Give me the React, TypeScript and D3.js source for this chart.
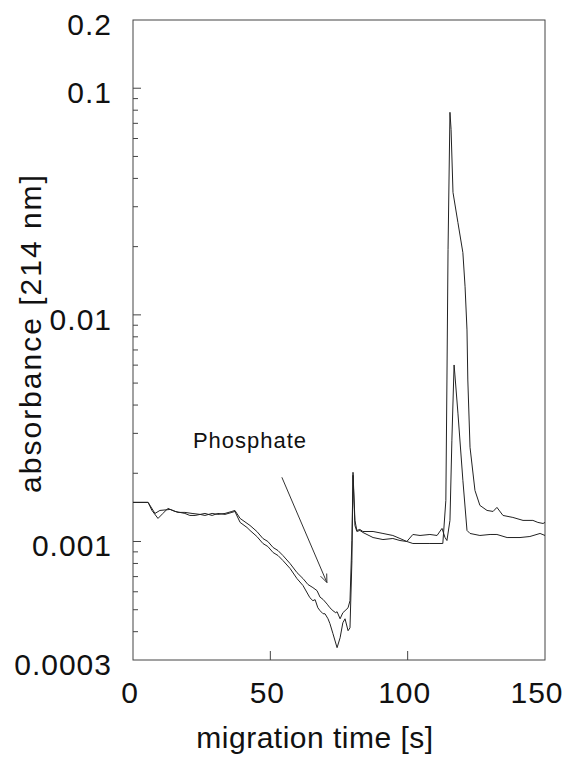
import React from "react";
import * as d3 from "d3";

// migration time [s] and absorbance for trace A (large peak ~116 s)
const timeA = [0, 5.5, 6.9, 9.1, 10.9, 12.7, 15.3, 18.9, 20.7, 22.6, 26.2, 28.8, 30.9, 33.5, 36.0, 37.1, 39.0, 41.5, 42.6, 45.1, 47.3, 49.1, 51.0, 52.8, 54.6, 57.2, 59.7, 61.9, 64.4, 65.5, 66.3, 67.3, 68.1, 69.2, 69.9, 71.0, 71.7, 72.8, 74.3, 75.4, 76.4, 77.2, 78.3, 79.0, 79.7, 80.1, 80.8, 81.5, 82.6, 83.7, 87.4, 91.0, 94.6, 97.2, 99.7, 101.9, 108.1, 112.8, 113.9, 114.3, 114.7, 115.4, 115.8, 116.5, 118.3, 120.1, 120.9, 121.6, 121.9, 122.7, 124.5, 126.3, 128.9, 131.1, 132.5, 134.7, 138.3, 142.0, 145.6, 147.4, 149.3, 150];
const absA = [1.488e-3, 1.488e-3, 1.371e-3, 1.264e-3, 1.33e-3, 1.4e-3, 1.357e-3, 1.33e-3, 1.303e-3, 1.303e-3, 1.33e-3, 1.303e-3, 1.33e-3, 1.317e-3, 1.344e-3, 1.357e-3, 1.214e-3, 1.153e-3, 1.119e-3, 1.052e-3, 0.98e-3, 0.95e-3, 0.894e-3, 0.867e-3, 0.824e-3, 0.76e-3, 0.686e-3, 0.639e-3, 0.565e-3, 0.548e-3, 0.554e-3, 0.51e-3, 0.495e-3, 0.48e-3, 0.48e-3, 0.456e-3, 0.434e-3, 0.392e-3, 0.34e-3, 0.376e-3, 0.438e-3, 0.456e-3, 0.404e-3, 0.416e-3, 0.824e-3, 2.02e-3, 1.239e-3, 1.119e-3, 1.13e-3, 1.107e-3, 1.107e-3, 1.085e-3, 1.063e-3, 1.031e-3, 1.0e-3, 0.98e-3, 0.98e-3, 0.98e-3, 1.518e-3, 5.16e-3, 19.39e-3, 0.0783, 0.0658, 0.0347, 0.02553, 0.01881, 0.0133, 8.58e-3, 5.16e-3, 2.605e-3, 1.68e-3, 1.443e-3, 1.371e-3, 1.357e-3, 1.414e-3, 1.303e-3, 1.277e-3, 1.239e-3, 1.239e-3, 1.214e-3, 1.201e-3, 1.214e-3];

// trace B (small peak ~117 s)
const timeB = [0, 5.5, 8.0, 9.8, 13.5, 16.4, 18.9, 21.5, 24.4, 26.2, 28.8, 30.9, 33.5, 36.0, 37.1, 39.0, 42.6, 45.1, 47.3, 49.1, 51.0, 52.8, 54.6, 57.2, 59.7, 61.9, 63.7, 65.5, 67.0, 68.1, 69.2, 70.7, 71.7, 72.8, 73.8, 74.3, 75.4, 76.4, 77.2, 78.3, 79.0, 79.7, 80.1, 80.8, 81.5, 82.6, 83.7, 87.4, 91.0, 94.6, 97.2, 99.7, 101.9, 104.5, 108.1, 110.7, 112.5, 113.6, 114.3, 115.4, 116.1, 116.9, 117.2, 118.3, 120.1, 121.6, 122.7, 126.3, 130.0, 132.5, 136.2, 140.9, 144.5, 148.2, 150];
const absB = [1.488e-3, 1.488e-3, 1.33e-3, 1.371e-3, 1.385e-3, 1.344e-3, 1.344e-3, 1.33e-3, 1.317e-3, 1.303e-3, 1.33e-3, 1.317e-3, 1.33e-3, 1.357e-3, 1.371e-3, 1.264e-3, 1.177e-3, 1.107e-3, 1.031e-3, 1.0e-3, 0.941e-3, 0.912e-3, 0.867e-3, 0.799e-3, 0.729e-3, 0.686e-3, 0.646e-3, 0.626e-3, 0.607e-3, 0.568e-3, 0.555e-3, 0.529e-3, 0.51e-3, 0.495e-3, 0.485e-3, 0.49e-3, 0.456e-3, 0.485e-3, 0.495e-3, 0.51e-3, 0.548e-3, 1.01e-3, 1.959e-3, 1.177e-3, 1.107e-3, 1.119e-3, 1.096e-3, 1.041e-3, 1.02e-3, 1.031e-3, 1.01e-3, 1.0e-3, 1.074e-3, 1.063e-3, 1.074e-3, 1.063e-3, 1.142e-3, 1.041e-3, 1.01e-3, 1.239e-3, 2.798e-3, 6.01e-3, 5.43e-3, 3.685e-3, 1.862e-3, 1.119e-3, 1.085e-3, 1.063e-3, 1.074e-3, 1.074e-3, 1.041e-3, 1.041e-3, 1.052e-3, 1.085e-3, 1.063e-3];

const xTicks = [0, 50, 100, 150];
const xTickLabels = ["0", "50", "100", "150"];
const yLabelValues = [0.0003, 0.001, 0.01, 0.1, 0.2];
const yLabels = ["0.0003", "0.001", "0.01", "0.1", "0.2"];
const annotation = { text: "Phosphate", t: 21.8, v: 0.00258, fromT: 54.2, fromV: 0.00192, toT: 70.6, toV: 0.000659 };

const W = 575, H = 764;
const L = 133, R = 545, T = 20, B = 660;
const FONT = "'Liberation Sans', Arial, Helvetica, sans-serif";
const INK = "#222";

export default function App() {
  const x = d3.scaleLinear().domain([0, 150]).range([L, R]);
  const y = d3.scaleLog().domain([0.0003, 0.2]).range([B, T]);
  const line = d3.line<[number, number]>().x((d) => x(d[0])).y((d) => y(d[1]));
  const dataA = timeA.map((t, i) => [t, absA[i]] as [number, number]);
  const dataB = timeB.map((t, i) => [t, absB[i]] as [number, number]);

  const yt = y.ticks().filter((v) => v > 0.0003 * 1.001 && v < 0.2 * 0.999);
  const isMajor = (v: number) => Math.abs(Math.log10(v) - Math.round(Math.log10(v))) < 1e-6;

  const ax1 = x(annotation.fromT), ay1 = y(annotation.fromV);
  const ax2 = x(annotation.toT), ay2 = y(annotation.toV);
  const ang = Math.atan2(ay2 - ay1, ax2 - ax1);
  const hl = 9, ha = 0.38;
  const h1 = [ax2 - hl * Math.cos(ang - ha), ay2 - hl * Math.sin(ang - ha)];
  const h2 = [ax2 - hl * Math.cos(ang + ha), ay2 - hl * Math.sin(ang + ha)];

  return (
    <svg width={W} height={H} style={{ position: "absolute", left: 0, top: 0, background: "#fff" }}>
      <rect x={0} y={0} width={W} height={H} fill="#fff" />
      {/* frame */}
      <rect x={L} y={T} width={R - L} height={B - T} fill="none" stroke="#444" strokeWidth={1} />
      {/* y ticks */}
      {yt.map((v, i) => (
        <line key={"yt" + i} x1={L} x2={L + (isMajor(v) ? 8 : 5)} y1={y(v)} y2={y(v)} stroke="#444" strokeWidth={1} />
      ))}
      {/* x ticks */}
      {xTicks.slice(1, -1).map((t) => (
        <line key={"xt" + t} x1={x(t)} x2={x(t)} y1={B} y2={B - 9} stroke="#444" strokeWidth={1} />
      ))}
      {/* y labels */}
      {yLabelValues.map((v, i) => (
        <text key={"yl" + i} x={112} y={y(v) + 15} textAnchor="end" fontFamily={FONT} fontSize={30} letterSpacing={1} fill="#111">
          {yLabels[i]}
        </text>
      ))}
      {/* x labels */}
      {xTicks.map((t, i) => (
        <text key={"xl" + i} x={x(t) - (i === 3 ? 8 : 3)} y={703} textAnchor="middle" fontFamily={FONT} fontSize={30} letterSpacing={1} fill="#111">
          {xTickLabels[i]}
        </text>
      ))}
      {/* axis titles */}
      <text x={315} y={748} textAnchor="middle" fontFamily={FONT} fontSize={30} letterSpacing={0.5} fill="#111">
        migration time [s]
      </text>
      <text transform="translate(41,333) rotate(-90)" textAnchor="middle" fontFamily={FONT} fontSize={30} letterSpacing={2} fill="#111">
        absorbance [214 nm]
      </text>
      {/* traces */}
      <path d={line(dataA) || ""} fill="none" stroke={INK} strokeWidth={1} strokeLinejoin="round" />
      <path d={line(dataB) || ""} fill="none" stroke={INK} strokeWidth={1} strokeLinejoin="round" />
      {/* annotation */}
      <text x={x(annotation.t)} y={y(annotation.v)} fontFamily={FONT} fontSize={22} letterSpacing={1} fill="#111">
        {annotation.text}
      </text>
      <line x1={ax1} y1={ay1} x2={ax2} y2={ay2} stroke="#333" strokeWidth={1} />
      <polyline points={`${h1[0]},${h1[1]} ${ax2},${ay2} ${h2[0]},${h2[1]}`} fill="none" stroke="#333" strokeWidth={1} />
    </svg>
  );
}
